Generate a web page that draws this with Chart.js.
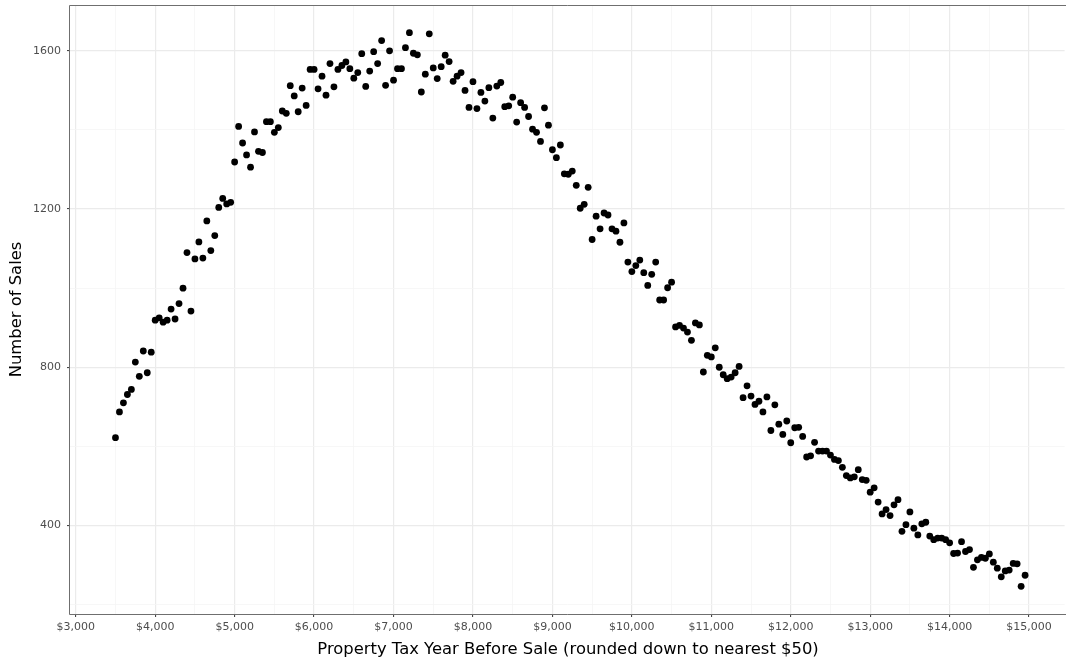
<!DOCTYPE html>
<html>
<head>
<meta charset="utf-8">
<title>Sales by property tax</title>
<script src="https://cdn.jsdelivr.net/npm/chart.js@4.4.1/dist/chart.umd.min.js"></script>
<style>
  html, body { margin: 0; padding: 0; background: #ffffff; overflow: hidden; width: 1068px; height: 662px; }
  #chart { display: block; width: 1068px; height: 662px; }
</style>
</head>
<body>
<canvas id="chart" width="1068" height="662"></canvas>
<script>
// Property tax paid in the year before sale, binned to $50
const taxBins = [
  3500, 3550, 3600, 3650, 3700, 3750, 3800, 3850, 3900, 3950,
  4000, 4050, 4100, 4150, 4200, 4250, 4300, 4350, 4400, 4450,
  4500, 4550, 4600, 4650, 4700, 4750, 4800, 4850, 4900, 4950,
  5000, 5050, 5100, 5150, 5200, 5250, 5300, 5350, 5400, 5450,
  5500, 5550, 5600, 5650, 5700, 5750, 5800, 5850, 5900, 5950,
  6000, 6050, 6100, 6150, 6200, 6250, 6300, 6350, 6400, 6450,
  6500, 6550, 6600, 6650, 6700, 6750, 6800, 6850, 6900, 6950,
  7000, 7050, 7100, 7150, 7200, 7250, 7300, 7350, 7400, 7450,
  7500, 7550, 7600, 7650, 7700, 7750, 7800, 7850, 7900, 7950,
  8000, 8050, 8100, 8150, 8200, 8250, 8300, 8350, 8400, 8450,
  8500, 8550, 8600, 8650, 8700, 8750, 8800, 8850, 8900, 8950,
  9000, 9050, 9100, 9150, 9200, 9250, 9300, 9350, 9400, 9450,
  9500, 9550, 9600, 9650, 9700, 9750, 9800, 9850, 9900, 9950,
  10000, 10050, 10100, 10150, 10200, 10250, 10300, 10350, 10400, 10450,
  10500, 10550, 10600, 10650, 10700, 10750, 10800, 10850, 10900, 10950,
  11000, 11050, 11100, 11150, 11200, 11250, 11300, 11350, 11400, 11450,
  11500, 11550, 11600, 11650, 11700, 11750, 11800, 11850, 11900, 11950,
  12000, 12050, 12100, 12150, 12200, 12250, 12300, 12350, 12400, 12450,
  12500, 12550, 12600, 12650, 12700, 12750, 12800, 12850, 12900, 12950,
  13000, 13050, 13100, 13150, 13200, 13250, 13300, 13350, 13400, 13450,
  13500, 13550, 13600, 13650, 13700, 13750, 13800, 13850, 13900, 13950,
  14000, 14050, 14100, 14150, 14200, 14250, 14300, 14350, 14400, 14450,
  14500, 14550, 14600, 14650, 14700, 14750, 14800, 14850, 14900, 14950
];

// Number of sales in each bin
const salesCount = [
  622, 687, 710, 731, 744, 813, 777, 841, 786, 838,
  919, 925, 914, 919, 947, 922, 961, 1000, 1090, 942,
  1074, 1117, 1076, 1170, 1095, 1133, 1204, 1227, 1213, 1217,
  1319, 1409, 1367, 1337, 1306, 1395, 1346, 1343, 1421, 1421,
  1394, 1406, 1448, 1442, 1512, 1486, 1446, 1506, 1462, 1553,
  1553, 1504, 1536, 1488, 1568, 1509, 1553, 1563, 1572, 1555,
  1531, 1545, 1593, 1510, 1549, 1598, 1568, 1626, 1513, 1600,
  1526, 1555, 1555, 1608, 1646, 1594, 1590, 1496, 1541, 1643,
  1557, 1530, 1560, 1589, 1573, 1523, 1536, 1545, 1500, 1457,
  1522, 1454, 1495, 1473, 1507, 1430, 1511, 1520, 1459, 1461,
  1483, 1420, 1469, 1457, 1434, 1402, 1394, 1371, 1456, 1412,
  1350, 1330, 1362, 1289, 1288, 1296, 1260, 1202, 1212, 1255,
  1123, 1182, 1150, 1190, 1185, 1150, 1144, 1116, 1165, 1066,
  1042, 1057, 1071, 1039, 1007, 1035, 1066, 970, 970, 1001,
  1015, 902, 906, 899, 889, 868, 912, 907, 788, 830,
  826, 849, 800, 781, 771, 775, 786, 802, 723, 753,
  727, 706, 714, 687, 725, 640, 705, 656, 630, 664,
  609, 647, 648, 625, 573, 576, 610, 588, 588, 588,
  578, 567, 564, 547, 526, 520, 523, 541, 516, 514,
  484, 495, 459, 429, 440, 425, 452, 465, 385, 402,
  434, 393, 376, 404, 408, 373, 364, 368, 368, 364,
  356, 329, 330, 359, 334, 339, 294, 313, 319, 317,
  328, 307, 292, 270, 285, 287, 304, 303, 246, 274
];

// Axis breaks and their labels
const xMajorBreaks = [3000, 4000, 5000, 6000, 7000, 8000, 9000, 10000, 11000, 12000, 13000, 14000, 15000];
const xTickLabels = ['$3,000', '$4,000', '$5,000', '$6,000', '$7,000', '$8,000', '$9,000', '$10,000', '$11,000', '$12,000', '$13,000', '$14,000', '$15,000'];
const xMinorBreaks = [3500, 4500, 5500, 6500, 7500, 8500, 9500, 10500, 11500, 12500, 13500, 14500];
const yMajorBreaks = [400, 800, 1200, 1600];
const yTickLabels = ['400', '800', '1200', '1600'];
const yMinorBreaks = [200, 600, 1000, 1400];

const xTitle = 'Property Tax Year Before Sale (rounded down to nearest $50)';
const yTitle = 'Number of Sales';

// Axis limits padded by 5% of the data range on each side
function paddedRange(values) {
  const lo = Math.min(...values), hi = Math.max(...values);
  const pad = (hi - lo) * 0.05;
  return [lo - pad, hi + pad];
}
const [xMin, xPaddedMax] = paddedRange(taxBins);
const [yMin, yMax] = paddedRange(salesCount);

// The panel runs a few pixels past the right edge of the canvas:
// show only the part of the padded range that fits (998 of 1004 px)
const PANEL_LEFT = 70, PANEL_FULL_RIGHT = 1074, CANVAS_W = 1068;
const xMax = xMin + (xPaddedMax - xMin) * (CANVAS_W - PANEL_LEFT) / (PANEL_FULL_RIGHT - PANEL_LEFT);

const points = taxBins.map((x, i) => ({ x: x, y: salesCount[i] }));

const FONT = '"DejaVu Sans", Verdana, sans-serif';
const GRID_MAJOR = '#EBEBEB';
const GRID_MINOR = '#F5F5F5';
const AXIS_DARK = '#333333';

function breaksWithin(list, lo, hi) {
  return list.filter(v => v >= lo && v <= hi).sort((a, b) => a - b).map(v => ({ value: v }));
}

// Fixed panel margins: the axes keep a constant size and add no label overhang
function fixX(s) { s.height = 48; s.paddingLeft = 0; s.paddingRight = 0; }
function fixY(s) { s.width = PANEL_LEFT; s.paddingTop = 0; s.paddingBottom = 0; }

// Panel outline (top, left, bottom) drawn over the data
const panelFrame = {
  id: 'panelFrame',
  afterDatasetsDraw(chart) {
    const { ctx, chartArea: a } = chart;
    const l = Math.round(a.left) - 0.5, t = Math.round(a.top) + 0.5;
    const b = Math.round(a.bottom) + 0.5, r = Math.round(a.right) + 1;
    ctx.save();
    ctx.strokeStyle = '#6f6f6f';
    ctx.lineWidth = 1;
    ctx.beginPath();
    ctx.moveTo(r, t); ctx.lineTo(l, t); ctx.lineTo(l, b); ctx.lineTo(r, b);
    ctx.stroke();
    ctx.restore();
  }
};

// Axis titles centred on the panel
const axisTitles = {
  id: 'axisTitles',
  afterDraw(chart) {
    const { ctx, chartArea: a } = chart;
    ctx.save();
    ctx.fillStyle = '#000000';
    ctx.textAlign = 'center';
    ctx.textBaseline = 'middle';
    ctx.font = '16.4px ' + FONT;
    ctx.fillText(xTitle, (PANEL_LEFT + PANEL_FULL_RIGHT) / 2 - 4, 650);
    ctx.translate(17, (a.top + a.bottom) / 2);
    ctx.rotate(-Math.PI / 2);
    ctx.fillText(yTitle, 0, 0);
    ctx.restore();
  }
};

new Chart(document.getElementById('chart'), {
  type: 'scatter',
  data: {
    datasets: [{
      data: points,
      backgroundColor: '#000000',
      borderColor: '#000000',
      borderWidth: 0,
      pointRadius: 3.4,
      pointHoverRadius: 3.4
    }]
  },
  plugins: [panelFrame, axisTitles],
  options: {
    responsive: false,
    animation: false,
    devicePixelRatio: 1,
    layout: { padding: { top: 5, right: 0, bottom: 0, left: 0 } },
    plugins: {
      legend: { display: false },
      tooltip: { enabled: false }
    },
    scales: {
      x: {
        type: 'linear',
        min: xMin,
        max: xMax,
        afterBuildTicks: s => { s.ticks = breaksWithin(xMajorBreaks.concat(xMinorBreaks), xMin, xMax); },
        afterFit: fixX,
        border: { display: false },
        grid: {
          color: c => xMajorBreaks.includes(c.tick.value) ? GRID_MAJOR : GRID_MINOR,
          lineWidth: c => xMajorBreaks.includes(c.tick.value) ? 1.2 : 0.8,
          tickColor: c => xMajorBreaks.includes(c.tick.value) ? AXIS_DARK : 'rgba(0,0,0,0)',
          tickLength: 3,
          tickWidth: 1
        },
        ticks: {
          autoSkip: false,
          maxRotation: 0,
          padding: 4,
          color: '#4D4D4D',
          font: { family: FONT, size: 11 },
          callback: v => { const i = xMajorBreaks.indexOf(v); return i >= 0 ? xTickLabels[i] : ''; }
        },
        title: { display: false }
      },
      y: {
        type: 'linear',
        min: yMin,
        max: yMax,
        afterBuildTicks: s => { s.ticks = breaksWithin(yMajorBreaks.concat(yMinorBreaks), yMin, yMax); },
        afterFit: fixY,
        border: { display: false },
        grid: {
          color: c => yMajorBreaks.includes(c.tick.value) ? GRID_MAJOR : GRID_MINOR,
          lineWidth: c => yMajorBreaks.includes(c.tick.value) ? 1.2 : 0.8,
          tickColor: c => yMajorBreaks.includes(c.tick.value) ? AXIS_DARK : 'rgba(0,0,0,0)',
          tickLength: 3,
          tickWidth: 1
        },
        ticks: {
          padding: 6,
          color: '#4D4D4D',
          font: { family: FONT, size: 11 },
          callback: v => { const i = yMajorBreaks.indexOf(v); return i >= 0 ? yTickLabels[i] : ''; }
        },
        title: { display: false }
      }
    }
  }
});
</script>
</body>
</html>
